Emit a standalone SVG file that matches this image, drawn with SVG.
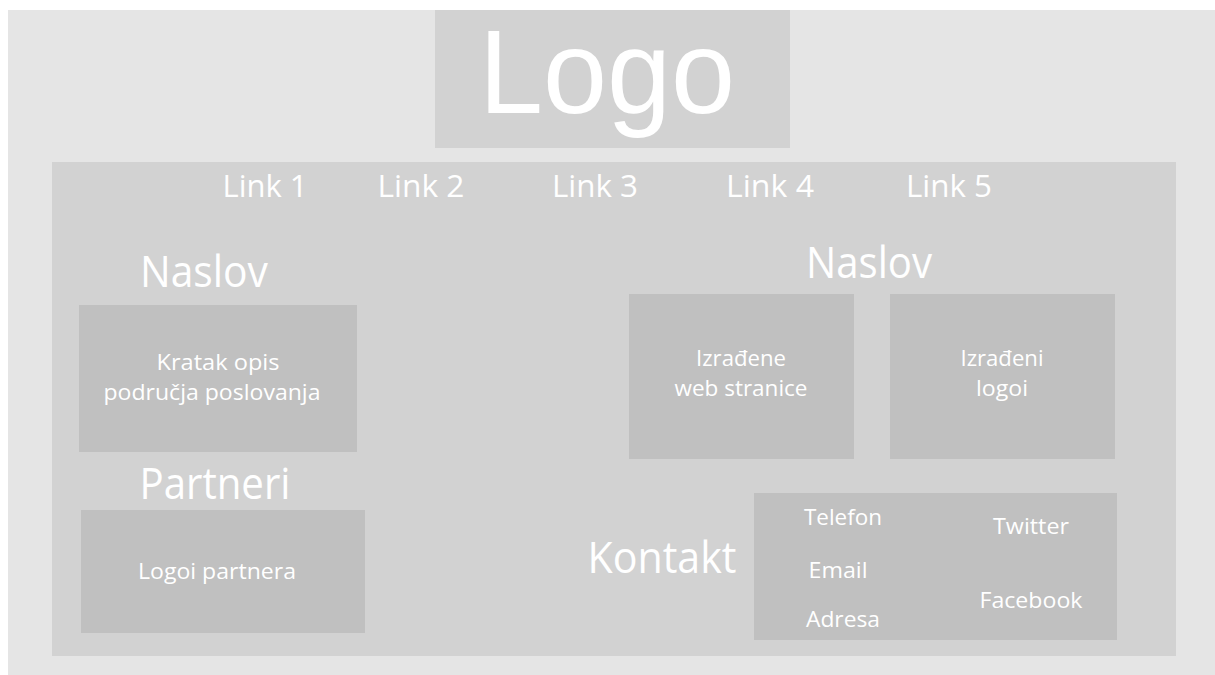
<svg xmlns="http://www.w3.org/2000/svg" width="1215" height="675" viewBox="0 0 1215 675">
<style>
.bg{fill:#e5e5e5}
.panel{fill:#d2d2d2}
.box{fill:#c0c0c0}
text{font-family:"Open Sans","Liberation Sans",sans-serif;fill:#ffffff;text-anchor:middle}
.logo{font-family:"Liberation Sans","Open Sans",sans-serif;font-size:118px}
.link{font-size:31px}
.head{font-size:43px}
.small{font-size:21px}
</style>
<rect x="0" y="0" width="1215" height="675" fill="#ffffff"/>
<rect class="bg" x="8" y="10" width="1207" height="665"/>
<g id="logo">
<rect class="panel" x="435" y="10" width="355" height="138"/>
<text class="logo" x="607" y="113" textLength="256" lengthAdjust="spacingAndGlyphs">Logo</text>
</g>
<g id="main">
<rect class="panel" x="52" y="162" width="1124" height="494"/>
</g>
<g id="nav">
<text class="link" x="265" y="197" textLength="85" lengthAdjust="spacingAndGlyphs">Link 1</text>
<text class="link" x="421" y="197" textLength="87" lengthAdjust="spacingAndGlyphs">Link 2</text>
<text class="link" x="595" y="197" textLength="86" lengthAdjust="spacingAndGlyphs">Link 3</text>
<text class="link" x="770" y="197" textLength="88" lengthAdjust="spacingAndGlyphs">Link 4</text>
<text class="link" x="949" y="197" textLength="86" lengthAdjust="spacingAndGlyphs">Link 5</text>
</g>
<g id="naslov-left">
<text class="head" x="204" y="287" textLength="128" lengthAdjust="spacingAndGlyphs">Naslov</text>
</g>
<g id="opis">
<rect class="box" x="79" y="305" width="278" height="147"/>
<text class="small" x="218" y="370" textLength="123" lengthAdjust="spacingAndGlyphs">Kratak opis</text>
<text class="small" x="212" y="400" textLength="217" lengthAdjust="spacingAndGlyphs">područja poslovanja</text>
</g>
<g id="partneri-title">
<text class="head" x="215" y="499" textLength="151" lengthAdjust="spacingAndGlyphs">Partneri</text>
</g>
<g id="partneri">
<rect class="box" x="81" y="510" width="284" height="123"/>
<text class="small" x="217" y="579" textLength="158" lengthAdjust="spacingAndGlyphs">Logoi partnera</text>
</g>
<g id="naslov-right">
<text class="head" x="869" y="278" textLength="126" lengthAdjust="spacingAndGlyphs">Naslov</text>
</g>
<g id="web">
<rect class="box" x="629" y="294" width="225" height="165"/>
<text class="small" x="741" y="366" textLength="90" lengthAdjust="spacingAndGlyphs">Izrađene</text>
<text class="small" x="741" y="396" textLength="133" lengthAdjust="spacingAndGlyphs">web stranice</text>
</g>
<g id="logoi">
<rect class="box" x="890" y="294" width="225" height="165"/>
<text class="small" x="1002" y="366" textLength="83" lengthAdjust="spacingAndGlyphs">Izrađeni</text>
<text class="small" x="1002" y="396" textLength="52" lengthAdjust="spacingAndGlyphs">logoi</text>
</g>
<g id="kontakt-title">
<text class="head" x="662" y="573" textLength="149" lengthAdjust="spacingAndGlyphs">Kontakt</text>
</g>
<g id="kontakt">
<rect class="box" x="754" y="493" width="363" height="147"/>
<text class="small" x="843" y="525" textLength="78" lengthAdjust="spacingAndGlyphs">Telefon</text>
<text class="small" x="1031" y="534" textLength="76" lengthAdjust="spacingAndGlyphs">Twitter</text>
<text class="small" x="838" y="578" textLength="59" lengthAdjust="spacingAndGlyphs">Email</text>
<text class="small" x="1031" y="608" textLength="103" lengthAdjust="spacingAndGlyphs">Facebook</text>
<text class="small" x="843" y="627" textLength="74" lengthAdjust="spacingAndGlyphs">Adresa</text>
</g>
<g id="connectors"></g>
</svg>
